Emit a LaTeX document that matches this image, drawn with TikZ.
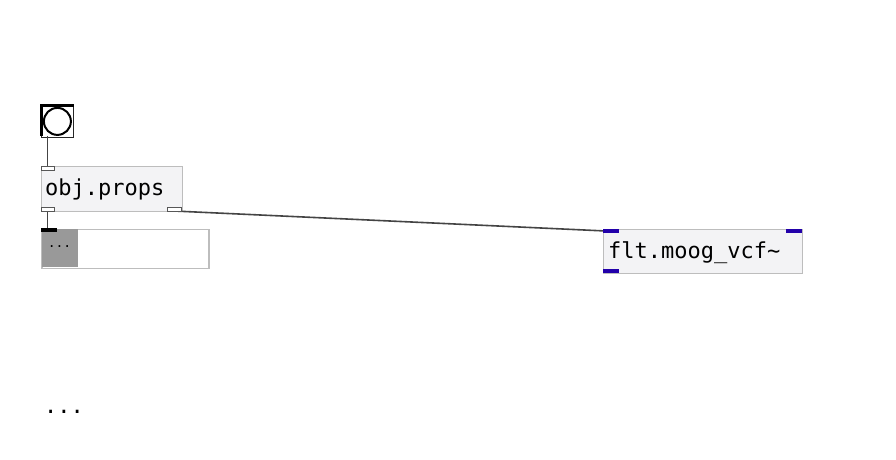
\documentclass[tikz,border=0pt]{standalone}
\usepackage{fontspec}
\setmonofont{DejaVu Sans Mono}
\definecolor{boxfill}{HTML}{F3F3F5}
\definecolor{boxline}{HTML}{BDBDBD}
\definecolor{wire}{HTML}{444444}
\definecolor{xlet}{HTML}{2200AA}
\definecolor{listgrey}{HTML}{999999}
\tikzset{
  objbox/.style={draw=boxline, fill=boxfill, line width=1.4pt, rectangle, inner sep=0pt, anchor=north west},
  objtext/.style={font=\ttfamily\fontsize{22}{24}\selectfont, inner sep=0pt, anchor=west},
  greyport/.style={draw=wire!90, fill=white, line width=1pt},
  blueport/.style={fill=xlet, draw=none},
  wireline/.style={draw=wire, line width=1.6pt}
}
\begin{document}
\begin{tikzpicture}[x=1pt,y=-1pt]
\useasboundingbox (0,0) rectangle (896,459);
\fill[white] (0,0) rectangle (896,459);
% bang
\node[draw=black!85, fill=white, line width=1.8pt, minimum width=32pt, minimum height=32pt, inner sep=0pt, anchor=north west] (bang) at (40.5,104.5) {};
\draw[black, line width=2pt] (bang.center) circle (13.5pt);
\fill[black] (39.6,103.5) rectangle (73.5,106.5);
\fill[black] (39.6,103.5) rectangle (42.8,136);
% obj.props
\node[objbox, minimum width=141pt, minimum height=45pt] (props) at (41,166) {};
\node[objtext] (propst) at (45,189) {obj.props};
% list box
\node[draw=boxline, fill=white, line width=1.6pt, minimum width=167pt, minimum height=39pt, inner sep=0pt, anchor=north west] (list) at (41,228.5) {};
\fill[listgrey] (41.5,229) rectangle (78,266.5);
\node[font=\ttfamily\fontsize{13}{14}\selectfont, inner sep=0pt] (listt) at (59.5,247) {...};
\fill[black] (40.5,228) rectangle (57,232);
% flt.moog_vcf~
\node[objbox, minimum width=199pt, minimum height=44pt] (vcf) at (603,229) {};
\node[objtext] (vcft) at (608,252.5) {flt.moog\_vcf\textasciitilde};
% wires
\coordinate (bangout) at (47.5,136);
\coordinate (propsin) at (47.5,166);
\coordinate (propsoutL) at (47.5,211);
\coordinate (propsoutR) at (174,211);
\coordinate (listin) at (47.5,228);
\coordinate (vcfin) at (606,231);
\draw[wireline] (bangout) -- (propsin);
\draw[wireline] (propsoutL) -- (listin);
\draw[wireline] (propsoutR) -- (vcfin);
% ports obj.props
\draw[greyport] (41.5,166.5) rectangle (54,170.5);
\draw[greyport] (41.5,207) rectangle (54,211);
\draw[greyport] (167,207) rectangle (181,211);
% ports vcf
\fill[blueport] (603,228.5) rectangle (619,233);
\fill[blueport] (786,228.5) rectangle (802,233);
\fill[blueport] (603,268.5) rectangle (619,273);
% bottom text
\node[font=\ttfamily\fontsize{22}{24}\selectfont, inner sep=0pt, anchor=west] (dots) at (44,412) {...};
\end{tikzpicture}
\end{document}
